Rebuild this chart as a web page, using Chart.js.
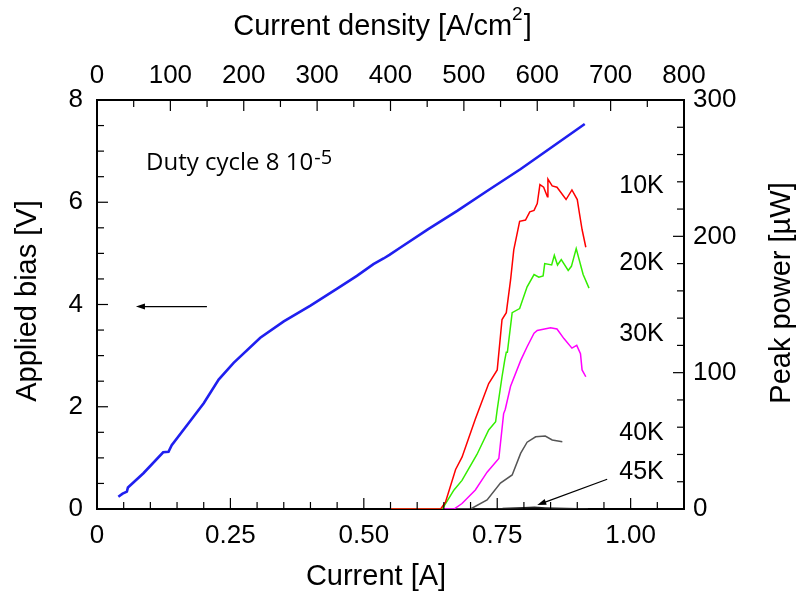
<!DOCTYPE html>
<html>
<head>
<meta charset="utf-8">
<script src="https://cdn.jsdelivr.net/npm/chart.js@4.4.1/dist/chart.umd.min.js"></script>
<style>
  html, body { margin: 0; padding: 0; background: #fff; }
  #wrap { width: 798px; height: 596px; }
</style>
</head>
<body>
<div id="wrap"><canvas id="liv" width="798" height="596"></canvas></div>
<script>
// Bias vs. current (left axis)
const biasCurrent = [0.040, 0.048, 0.056, 0.058, 0.087, 0.124, 0.134, 0.140, 0.174, 0.200, 0.228, 0.256, 0.306, 0.350, 0.400, 0.450, 0.487, 0.518, 0.537, 0.548, 0.568, 0.620, 0.675, 0.731, 0.794, 0.850, 0.914];
const biasVolts   = [0.24, 0.30, 0.34, 0.42, 0.70, 1.11, 1.12, 1.25, 1.71, 2.07, 2.53, 2.86, 3.35, 3.67, 3.98, 4.31, 4.56, 4.79, 4.90, 4.97, 5.11, 5.47, 5.83, 6.22, 6.65, 7.06, 7.53];

// Peak power vs. current at each heat-sink temperature (right axis, µW)
const current10K = [0.55, 0.60, 0.644, 0.653, 0.672, 0.684, 0.709, 0.734, 0.750, 0.759, 0.767, 0.775, 0.781, 0.792, 0.803, 0.811, 0.819, 0.825, 0.830, 0.837, 0.844, 0.845, 0.853, 0.862, 0.879, 0.890, 0.900, 0.904, 0.909, 0.916];
const power10K   = [0, 0, 0, 5, 29, 38, 66, 92, 102, 139, 144, 168, 190, 211, 212, 218, 219, 224, 238, 236, 229, 242, 237, 236, 227, 234, 227, 217, 205, 192];

const current20K = [0.55, 0.60, 0.647, 0.669, 0.684, 0.712, 0.734, 0.747, 0.750, 0.759, 0.764, 0.767, 0.769, 0.778, 0.792, 0.806, 0.819, 0.828, 0.836, 0.839, 0.852, 0.857, 0.863, 0.870, 0.883, 0.889, 0.898, 0.911, 0.922];
const power20K   = [0, 0, 0, 14, 21, 40, 58, 64, 73, 97, 109, 115, 115, 144, 147, 163, 172, 170, 171, 180, 179, 186, 179, 183, 175, 178, 191, 172, 162];

const current30K = [0.55, 0.60, 0.669, 0.684, 0.709, 0.731, 0.753, 0.762, 0.765, 0.775, 0.794, 0.806, 0.819, 0.825, 0.850, 0.862, 0.875, 0.890, 0.899, 0.906, 0.909, 0.916];
const power30K   = [0, 0, 0, 4, 14, 27, 37, 70, 73, 90, 109, 119, 129, 131, 133, 132, 125, 118, 120, 114, 102, 97];

const current40K = [0.60, 0.700, 0.731, 0.756, 0.778, 0.794, 0.806, 0.822, 0.840, 0.853, 0.872];
const power40K   = [0, 0, 6.6, 19, 25, 41, 49, 53, 53.5, 50.6, 49.4];

const current45K = [0.60, 0.70, 0.76, 0.80, 0.82, 0.84, 0.88, 0.92];
const power45K   = [0, 0, 0.3, 1.0, 1.2, 0.8, 0.3, 0];

const tempLabels = ['10K', '20K', '30K', '40K', '45K'];
const tempLabelPower = [237, 180, 128, 56, 27];

// Tick labels
const currentTicks = [0, 0.25, 0.5, 0.75, 1.0];
const currentTickLabels = ['0', '0.25', '0.50', '0.75', '1.00'];
const densityTicks = [0, 100, 200, 300, 400, 500, 600, 700, 800];
const biasTicks = [0, 2, 4, 6, 8];
const powerTicks = [0, 100, 200, 300];

const FONT = "'Liberation Sans', Arial, Helvetica, sans-serif";
const TITLE = '29px ' + FONT;

function pts(xs, ys) {
    return xs.map((x, i) => ({ x: x, y: ys[i] }));
}

function series(label, xs, ys, color, width, axis) {
    return {
        label: label,
        data: pts(xs, ys),
        borderColor: color,
        borderWidth: width,
        pointRadius: 0,
        tension: 0,
        fill: false,
        yAxisID: axis
    };
}

function fixedTicks(values) {
    return function (scale) {
        scale.ticks = values.map(v => ({ value: v }));
    };
}

function arrow(ctx, x0, y0, x1, y1) {
    const a = Math.atan2(y1 - y0, x1 - x0);
    ctx.beginPath();
    ctx.moveTo(x0, y0);
    ctx.lineTo(x1 - 7 * Math.cos(a), y1 - 7 * Math.sin(a));
    ctx.stroke();
    ctx.beginPath();
    ctx.moveTo(x1, y1);
    ctx.lineTo(x1 - 9 * Math.cos(a) + 3 * Math.sin(a), y1 - 9 * Math.sin(a) - 3 * Math.cos(a));
    ctx.lineTo(x1 - 9 * Math.cos(a) - 3 * Math.sin(a), y1 - 9 * Math.sin(a) + 3 * Math.cos(a));
    ctx.closePath();
    ctx.fill();
}

function rotatedTitle(ctx, text, cx, cy) {
    ctx.save();
    ctx.translate(cx, cy);
    ctx.rotate(-Math.PI / 2);
    ctx.textAlign = 'center';
    ctx.fillText(text, 0, 0);
    ctx.restore();
}

// Inward tick marks, axis titles and the in-plot notes
const framePlugin = {
    id: 'frame',
    afterDraw(chart) {
        const { ctx, chartArea: area, scales } = chart;
        const { x, x2, y, y2 } = scales;
        ctx.save();
        ctx.strokeStyle = '#000';
        ctx.fillStyle = '#000';
        ctx.lineWidth = 1.2;

        // [scale, step, majorEvery, count, edge]
        const marks = [
            [x, 0.05, 5, 22, 'bottom'],
            [x2, 50, 2, 16, 'top'],
            [y, 0.5, 4, 16, 'left'],
            [y2, 20, 5, 15, 'right']
        ];
        marks.forEach(([s, step, every, n, edge]) => {
            for (let i = 1; i < n; i++) {
                const p = s.getPixelForValue(i * step);
                const len = i % every === 0 ? 11 : 7;
                ctx.beginPath();
                if (edge === 'bottom') { ctx.moveTo(p, area.bottom); ctx.lineTo(p, area.bottom - len); }
                if (edge === 'top') { ctx.moveTo(p, area.top); ctx.lineTo(p, area.top + len); }
                if (edge === 'left') { ctx.moveTo(area.left, p); ctx.lineTo(area.left + len, p); }
                if (edge === 'right') { ctx.moveTo(area.right, p); ctx.lineTo(area.right - len, p); }
                ctx.stroke();
            }
        });

        ctx.textBaseline = 'middle';

        // top axis title with superscript
        ctx.font = TITLE;
        const t1 = 'Current density [A/cm';
        const w1 = ctx.measureText(t1).width;
        ctx.font = '19px ' + FONT;
        const w2 = ctx.measureText('2').width;
        ctx.font = TITLE;
        const w3 = ctx.measureText(']').width;
        const tx = 382 - (w1 + w2 + w3) / 2;
        ctx.textAlign = 'left';
        ctx.fillText(t1, tx, 27);
        ctx.font = '19px ' + FONT;
        ctx.fillText('2', tx + w1, 15);
        ctx.font = TITLE;
        ctx.fillText(']', tx + w1 + w2 + 1, 27);

        // bottom and side titles
        ctx.textAlign = 'center';
        ctx.fillText('Current [A]', 376, 577);
        rotatedTitle(ctx, 'Applied bias [V]', 28, 301);
        rotatedTitle(ctx, 'Peak power [\u00b5W]', 782, 293);

        // duty cycle note
        ctx.textAlign = 'left';
        ctx.font = "24px 'Open Sans', sans-serif";
        const dx = x.getPixelForValue(0.092);
        const dy = y.getPixelForValue(6.76);
        const d1 = 'Duty cycle 8 10';
        ctx.fillText(d1, dx, dy);
        const dw = ctx.measureText(d1).width;
        ctx.font = "20px 'Open Sans', sans-serif";
        ctx.fillText('-5', dx + dw + 1, dy - 5);

        // temperature labels
        ctx.font = '25px ' + FONT;
        ctx.textAlign = 'right';
        tempLabels.forEach((t, i) => {
            ctx.fillText(t, x.getPixelForValue(1.062), y2.getPixelForValue(tempLabelPower[i]));
        });

        // arrows
        ctx.lineWidth = 1.2;
        arrow(ctx, x.getPixelForValue(0.206), y.getPixelForValue(3.96),
                   x.getPixelForValue(0.073), y.getPixelForValue(3.96));
        arrow(ctx, x.getPixelForValue(0.956), y2.getPixelForValue(21.8),
                   x.getPixelForValue(0.825), y2.getPixelForValue(2.9));
        ctx.restore();
    }
};

const tickFont = { family: FONT, size: 26 };
const axisBorder = { display: true, color: '#000', width: 2 };

new Chart(document.getElementById('liv'), {
    type: 'line',
    data: {
        datasets: [
            series('Bias', biasCurrent, biasVolts, '#1f1fef', 2.6, 'y'),
            series('10K', current10K, power10K, '#ff0000', 1.5, 'y2'),
            series('20K', current20K, power20K, '#33ee00', 1.5, 'y2'),
            series('30K', current30K, power30K, '#ff00ff', 1.5, 'y2'),
            series('40K', current40K, power40K, '#555555', 1.5, 'y2'),
            series('45K', current45K, power45K, '#222222', 1.5, 'y2')
        ]
    },
    options: {
        responsive: false,
        animation: false,
        layout: { padding: 0 },
        plugins: { legend: { display: false }, tooltip: { enabled: false } },
        scales: {
            x: {
                type: 'linear', position: 'bottom', min: 0, max: 1.1,
                afterFit: s => { s.height = 87; },
                afterBuildTicks: fixedTicks(currentTicks),
                grid: { display: false, drawTicks: false },
                border: axisBorder,
                ticks: {
                    font: tickFont, color: '#000', padding: 11, maxRotation: 0,
                    callback: (v) => currentTickLabels[currentTicks.indexOf(v)]
                }
            },
            x2: {
                type: 'linear', position: 'top', min: 0, max: 800,
                afterFit: s => { s.height = 100; },
                afterBuildTicks: fixedTicks(densityTicks),
                grid: { display: false, drawTicks: false },
                border: axisBorder,
                ticks: { font: tickFont, color: '#000', padding: 9, maxRotation: 0 }
            },
            y: {
                type: 'linear', position: 'left', min: 0, max: 8,
                afterFit: s => { s.width = 97; },
                afterBuildTicks: fixedTicks(biasTicks),
                grid: { display: false, drawTicks: false },
                border: axisBorder,
                ticks: { font: tickFont, color: '#000', padding: 14 }
            },
            y2: {
                type: 'linear', position: 'right', min: 0, max: 300,
                afterFit: s => { s.width = 114; },
                afterBuildTicks: fixedTicks(powerTicks),
                grid: { display: false, drawTicks: false },
                border: axisBorder,
                ticks: { font: tickFont, color: '#000', padding: 9 }
            }
        }
    },
    plugins: [framePlugin]
});
</script>
</body>
</html>
